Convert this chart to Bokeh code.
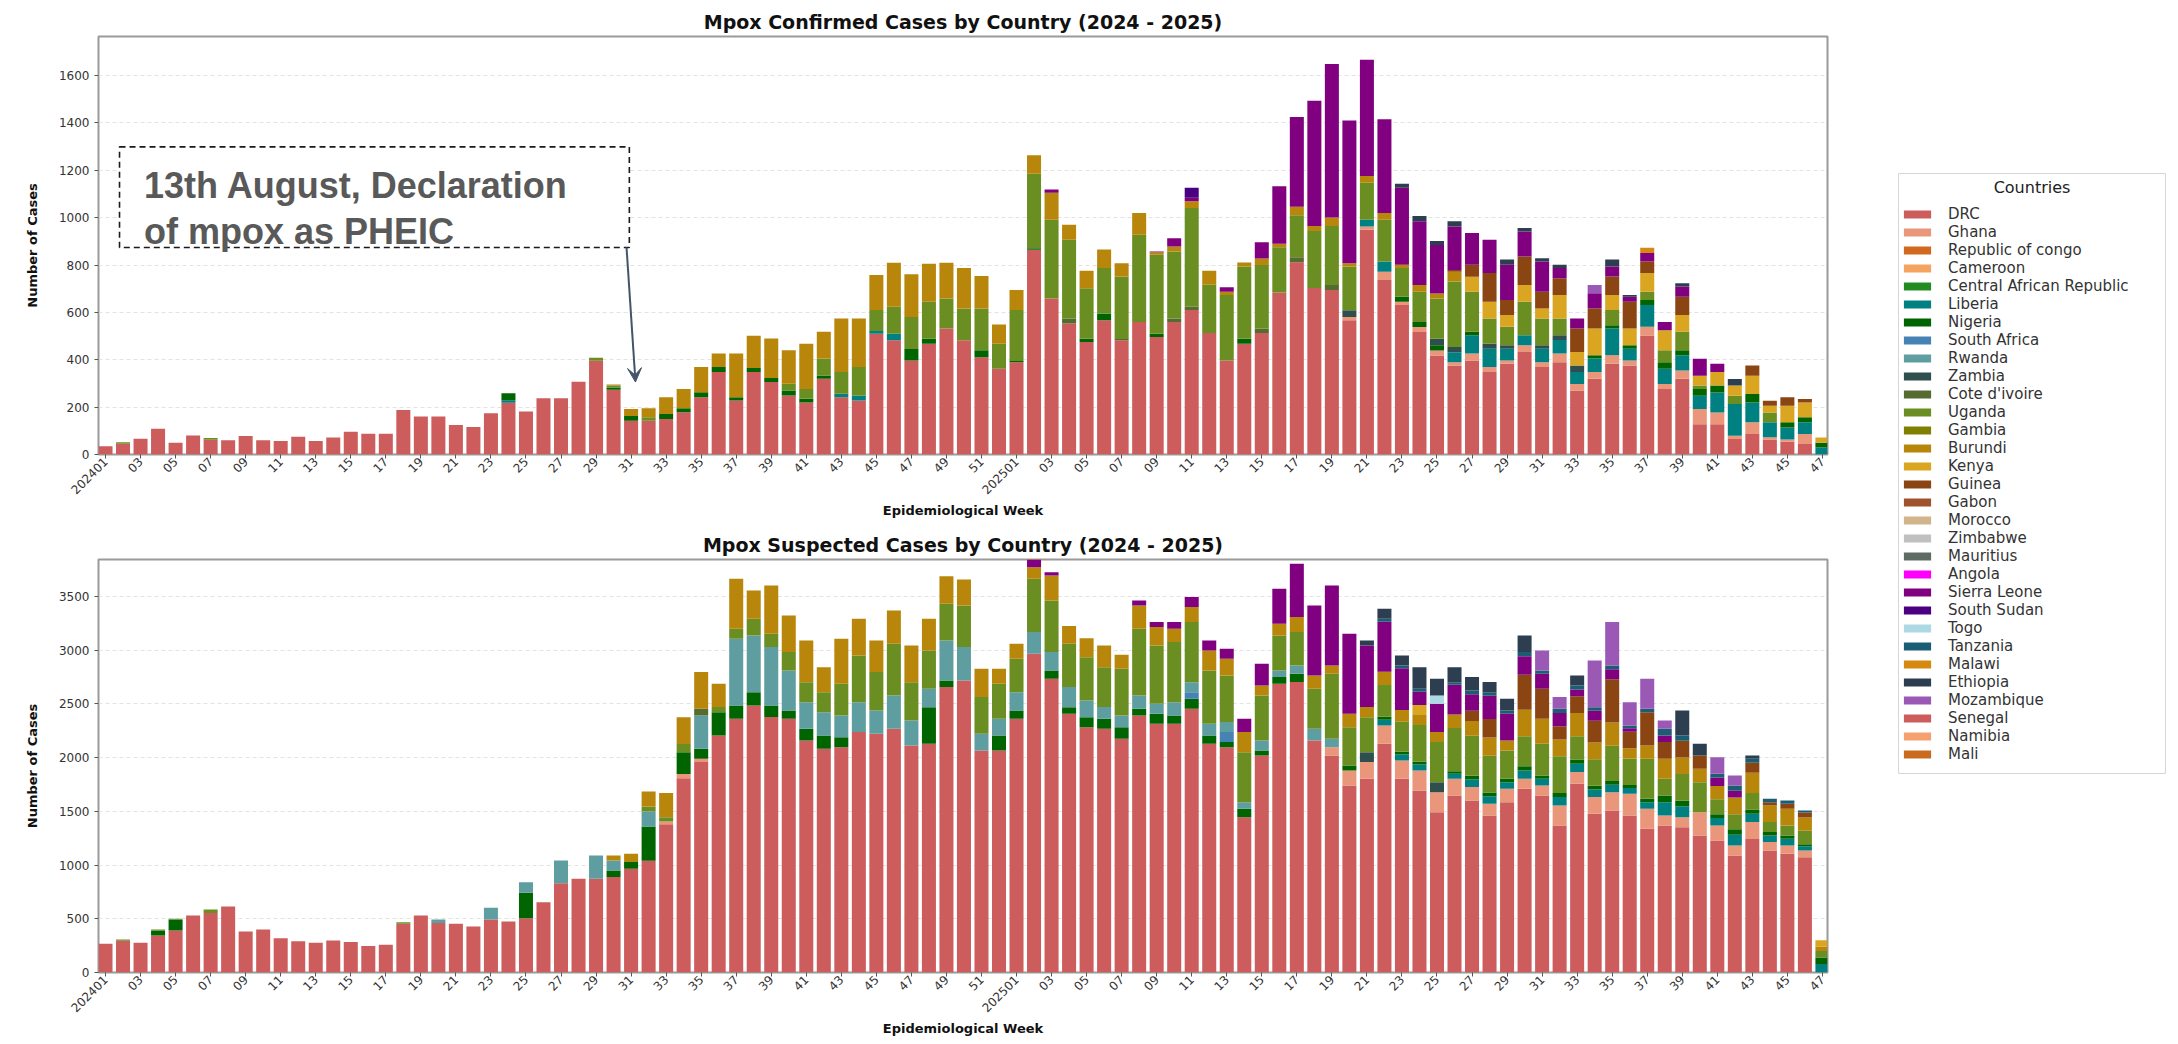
import math
from bokeh.plotting import figure
from bokeh.models import (ColumnDataSource, Range1d, FixedTicker, Legend, LegendItem,
                          BoxAnnotation, Label, Arrow, VeeHead)
from bokeh.layouts import row, column
from bokeh.embed import file_html
from bokeh.resources import INLINE

# ---------------- categories ----------------
weeks = [f"2024{w:02d}" for w in range(1, 53)] + [f"2025{w:02d}" for w in range(1, 48)]
N = len(weeks)
tick_labels = {i: (wk if wk.endswith("01") else wk[4:]) for i, wk in enumerate(weeks) if i % 2 == 0}

countries = ["DRC", "Ghana", "Republic of congo", "Cameroon", "Central African Republic",
             "Liberia", "Nigeria", "South Africa", "Rwanda", "Zambia", "Cote d'ivoire",
             "Uganda", "Gambia", "Burundi", "Kenya", "Guinea", "Gabon", "Morocco",
             "Zimbabwe", "Mauritius", "Angola", "Sierra Leone", "South Sudan", "Togo",
             "Tanzania", "Malawi", "Ethiopia", "Mozambique", "Senegal", "Namibia", "Mali"]
colors = ["#CD5C5C", "#E9967A", "#D2691E", "#F4A460", "#228B22",
          "#008080", "#006400", "#4682B4", "#5F9EA0", "#2F4F4F", "#556B2F",
          "#6B8E23", "#808000", "#B8860B", "#DAA520", "#8B4513", "#A0522D", "#D2B48C",
          "#C0C0C0", "#5E6B63", "#FF00FF", "#800080", "#4B0082", "#ADD8E6",
          "#1B5E73", "#D68910", "#2C3E50", "#9B59B6", "#CD5C5C", "#F4A070", "#CA6A1E"]

# ---------------- confirmed cases (2024 weeks 1-52, 2025 weeks 1-47) ----------------
c_drc_24 = [35, 45, 66, 109, 50, 80, 62, 60, 78, 60,
            57, 75, 57, 72, 96, 88, 88, 188, 160, 160,
            125, 116, 174, 219, 182, 238, 238, 307, 396, 273,
            143, 143, 150, 178, 242, 348, 228, 348, 306, 249,
            220, 320, 242, 228, 510, 482, 397, 468, 532, 482,
            411, 362]
c_drc_25 = [390, 865, 659, 553, 475, 567, 482, 560, 496, 560,
            610, 513, 397, 468, 513, 684, 812, 703, 695, 567,
            949, 737, 631, 517, 418, 376, 397, 348, 383, 433,
            369, 390, 270, 320, 383, 376, 503, 277, 320, 128,
            128, 65, 87, 63, 54, 44, 0]
c_gh_25 = [0, 0, 0, 0, 0, 0, 0, 0, 0, 0,
           0, 0, 0, 0, 0, 0, 0, 0, 0, 14,
           14, 35, 14, 21, 21, 14, 29, 21, 14, 28,
           21, 36, 28, 28, 36, 21, 36, 21, 35, 64,
           49, 14, 49, 10, 9, 43, 0]
c_lib_24 = [0, 0, 0, 0, 0, 0, 0, 0, 0, 0,
            0, 0, 0, 0, 0, 0, 0, 0, 0, 0,
            0, 0, 0, 10, 0, 0, 0, 0, 0, 0,
            0, 0, 0, 0, 0, 0, 0, 0, 0, 0,
            0, 0, 14, 21, 12, 28, 0, 0, 0, 0,
            0, 0]
c_lib_25 = [0, 0, 0, 0, 0, 0, 0, 0, 0, 0,
            0, 0, 0, 0, 0, 0, 0, 0, 0, 0,
            28, 43, 0, 0, 0, 42, 78, 78, 50, 43,
            57, 57, 50, 57, 113, 50, 92, 64, 64, 56,
            85, 134, 84, 63, 51, 49, 30]
c_nig_24 = [0, 0, 0, 0, 0, 0, 0, 0, 0, 0,
            0, 0, 0, 0, 0, 0, 0, 0, 0, 0,
            0, 0, 0, 30, 0, 0, 0, 0, 0, 10,
            20, 0, 21, 17, 21, 21, 14, 17, 17, 21,
            15, 14, 0, 0, 0, 0, 49, 21, 0, 0,
            29, 0]
c_nig_25 = [5, 6, 0, 0, 14, 28, 0, 0, 14, 0,
            0, 0, 0, 21, 0, 0, 0, 0, 0, 0,
            0, 0, 21, 22, 22, 0, 14, 0, 0, 0,
            0, 0, 0, 14, 14, 14, 21, 28, 21, 29,
            29, 0, 35, 0, 22, 21, 20]
c_zam_25 = [0, 0, 0, 0, 0, 0, 0, 0, 0, 0,
            0, 0, 0, 0, 0, 0, 0, 0, 0, 28,
            0, 0, 0, 0, 28, 22, 0, 21, 14, 0,
            14, 21, 28, 0, 0, 0, 0, 0, 0, 0,
            0, 0, 0, 0, 0, 0, 0]
c_cote_25 = [0, 0, 0, 21, 0, 0, 6, 0, 0, 14,
             14, 0, 0, 0, 19, 0, 21, 0, 21, 0,
             0, 0, 0, 0, 0, 0, 0, 0, 0, 0,
             0, 0, 0, 0, 0, 0, 0, 0, 0, 0,
             0, 0, 0, 0, 0, 0, 0]
c_ug_24 = [0, 7, 0, 0, 0, 0, 8, 0, 0, 0,
           0, 0, 0, 0, 0, 0, 0, 0, 0, 0,
           0, 0, 0, 0, 0, 0, 0, 0, 13, 8,
           0, 14, 0, 0, 0, 0, 0, 0, 0, 29,
           42, 71, 92, 120, 88, 114, 135, 156, 127, 135,
           177, 106]
c_ug_25 = [215, 314, 332, 333, 213, 192, 264, 368, 333, 283,
           417, 204, 276, 305, 268, 191, 177, 241, 249, 185,
           156, 176, 121, 127, 170, 276, 169, 106, 78, 141,
           113, 70, 0, 0, 64, 0, 35, 50, 78, 14,
           0, 35, 0, 41, 0, 0, 0]
c_bur_24 = [0, 0, 0, 0, 0, 0, 0, 0, 0, 0,
            0, 0, 0, 0, 0, 0, 0, 0, 0, 0,
            0, 0, 0, 0, 0, 0, 0, 0, 0, 5,
            29, 38, 71, 82, 106, 57, 184, 136, 167, 141,
            191, 113, 226, 205, 148, 186, 180, 160, 151, 170,
            137, 81]
c_bur_25 = [85, 79, 114, 63, 74, 79, 56, 92, 11, 21,
            28, 59, 14, 17, 28, 15, 36, 21, 36, 14,
            29, 29, 14, 29, 21, 42, 0, 0, 0, 0,
            0, 0, 0, 0, 0, 0, 0, 0, 0, 0,
            0, 0, 0, 0, 0, 0, 0]
c_ken_25 = [0, 0, 0, 0, 0, 0, 0, 0, 0, 0,
            0, 0, 0, 0, 0, 0, 0, 0, 0, 0,
            0, 0, 0, 0, 0, 0, 64, 71, 50, 71,
            43, 100, 57, 113, 64, 71, 79, 85, 71, 42,
            57, 43, 78, 29, 70, 63, 22]
c_gui_25 = [0, 0, 0, 0, 0, 0, 0, 0, 0, 0,
            0, 0, 0, 0, 0, 0, 0, 0, 0, 0,
            0, 0, 0, 0, 0, 7, 50, 121, 63, 120,
            70, 70, 99, 85, 78, 113, 49, 0, 77, 0,
            0, 0, 43, 21, 36, 14, 0]
c_sl_25 = [0, 0, 14, 0, 0, 0, 0, 0, 3, 35,
           15, 0, 19, 0, 68, 243, 379, 529, 648, 602,
           491, 396, 325, 269, 205, 184, 134, 141, 149, 106,
           128, 43, 42, 64, 42, 21, 36, 35, 43, 71,
           35, 0, 0, 0, 0, 0, 0]
c_ss_25 = [0, 0, 0, 0, 0, 0, 0, 0, 0, 0,
           42, 0, 0, 0, 0, 0, 0, 0, 0, 0,
           0, 0, 0, 0, 0, 0, 0, 0, 0, 0,
           0, 0, 0, 0, 0, 0, 0, 0, 0, 0,
           0, 0, 0, 0, 0, 0, 0]
c_eth_25 = [0, 0, 0, 0, 0, 0, 0, 0, 0, 0,
            0, 0, 0, 0, 0, 0, 0, 0, 0, 0,
            0, 0, 17, 22, 17, 22, 0, 0, 22, 14,
            14, 14, 0, 0, 29, 8, 0, 0, 14, 0,
            0, 28, 0, 0, 0, 0, 0]
c_moz_25 = [0, 0, 0, 0, 0, 0, 0, 0, 0, 0,
            0, 0, 0, 0, 0, 0, 0, 0, 0, 0,
            0, 0, 0, 0, 0, 0, 0, 0, 0, 0,
            0, 0, 0, 35, 0, 0, 0, 0, 0, 0,
            0, 0, 0, 0, 0, 0, 0]
c_mal_25 = [0, 0, 0, 0, 0, 0, 0, 0, 0, 0,
            0, 0, 0, 0, 0, 0, 0, 0, 0, 0,
            0, 0, 0, 0, 0, 0, 0, 0, 0, 0,
            0, 0, 0, 0, 0, 0, 22, 0, 0, 0,
            0, 0, 0, 0, 0, 0, 0]

# ---------------- suspected cases ----------------
s_drc_24 = [267, 295, 277, 345, 391, 531, 555, 614, 382, 400,
            320, 292, 277, 298, 283, 246, 258, 453, 531, 462,
            453, 428, 494, 475, 506, 654, 832, 872, 872, 888,
            965, 1040, 1380, 1808, 1959, 2206, 2362, 2486, 2378, 2362,
            2160, 2083, 2098, 2238, 2222, 2269, 2114, 2129, 2657, 2719,
            2067, 2067]
s_drc_25 = [2362, 2967, 2734, 2408, 2284, 2269, 2176, 2393, 2315, 2315,
            2455, 2129, 2098, 1446, 2020, 2688, 2704, 2160, 2020, 1741,
            1803, 2129, 1803, 1695, 1493, 1648, 1602, 1462, 1586, 1710,
            1648, 1369, 1757, 1477, 1508, 1462, 1338, 1369, 1353, 1276,
            1229, 1089, 1244, 1136, 1105, 1074, 0]
s_gh_24 = [0, 0, 0, 0, 0, 0, 0, 0, 0, 0,
           0, 0, 0, 0, 0, 0, 0, 0, 0, 0,
           0, 0, 0, 0, 0, 0, 0, 0, 0, 0,
           0, 0, 25, 41, 31, 0, 0, 0, 0, 0,
           0, 0, 0, 0, 0, 0, 0, 0, 0, 0,
           0, 0]
s_gh_25 = [0, 0, 0, 0, 0, 0, 0, 0, 0, 0,
           0, 0, 0, 0, 0, 0, 0, 0, 78, 140,
           156, 171, 171, 186, 186, 155, 124, 109, 124, 93,
           93, 186, 109, 156, 171, 202, 186, 93, 93, 217,
           140, 94, 156, 78, 78, 62, 0]
s_lib_25 = [0, 0, 0, 0, 0, 0, 0, 0, 0, 0,
            0, 0, 0, 0, 0, 0, 0, 0, 0, 0,
            0, 54, 55, 55, 0, 47, 70, 70, 62, 78,
            63, 78, 77, 70, 70, 54, 62, 124, 101, 0,
            70, 100, 78, 62, 62, 39, 80]
s_nig_24 = [0, 0, 0, 46, 103, 0, 0, 0, 0, 0,
            0, 0, 0, 0, 0, 0, 0, 0, 0, 0,
            0, 0, 0, 0, 236, 0, 0, 0, 0, 62,
            63, 320, 0, 202, 93, 218, 124, 124, 108, 78,
            109, 124, 93, 0, 0, 0, 0, 341, 62, 0,
            0, 140]
s_nig_25 = [78, 0, 78, 62, 93, 93, 108, 62, 93, 78,
            93, 78, 47, 78, 47, 62, 77, 0, 0, 46,
            0, 27, 27, 27, 0, 24, 35, 35, 31, 39,
            31, 39, 39, 35, 35, 27, 31, 62, 51, 0,
            35, 51, 39, 31, 31, 20, 60]
s_rw_24 = [0, 0, 0, 0, 0, 0, 0, 0, 0, 0,
           0, 0, 0, 0, 0, 0, 0, 0, 0, 32,
           0, 0, 109, 0, 99, 0, 211, 0, 218, 93,
           0, 140, 0, 0, 310, 0, 621, 528, 544, 372,
           248, 217, 202, 279, 218, 310, 232, 171, 372, 311,
           155, 155]
s_rw_25 = [170, 202, 171, 187, 156, 109, 109, 124, 94, 124,
           93, 108, 93, 62, 93, 62, 78, 109, 78, 0,
           0, 0, 0, 0, 0, 0, 0, 0, 0, 0,
           0, 0, 0, 0, 0, 0, 0, 0, 0, 0,
           0, 0, 0, 0, 0, 0, 0]
s_zam_25 = [0, 0, 0, 0, 0, 0, 0, 0, 0, 0,
            0, 0, 0, 0, 0, 0, 0, 0, 0, 0,
            92, 0, 0, 0, 93, 0, 0, 0, 0, 0,
            0, 0, 0, 0, 0, 0, 0, 0, 0, 0,
            0, 0, 0, 0, 0, 0, 0]
s_cote_24 = [0, 0, 0, 0, 0, 0, 0, 0, 0, 0,
             0, 0, 0, 0, 0, 0, 0, 0, 0, 0,
             0, 0, 0, 0, 0, 0, 0, 0, 0, 0,
             0, 0, 0, 0, 62, 0, 0, 0, 0, 0,
             0, 0, 0, 0, 0, 0, 0, 0, 0, 0,
             0, 0]
s_ug_24 = [0, 13, 0, 9, 6, 0, 32, 0, 0, 0,
           0, 0, 0, 0, 0, 0, 0, 15, 0, 0,
           0, 0, 0, 0, 0, 0, 0, 0, 0, 0,
           0, 46, 40, 77, 0, 47, 93, 155, 124, 171,
           186, 186, 295, 435, 357, 482, 357, 357, 342, 387,
           342, 326]
s_ug_25 = [311, 496, 481, 404, 403, 372, 435, 621, 543, 559,
           559, 497, 434, 465, 419, 326, 310, 372, 605, 357,
           326, 295, 279, 341, 373, 403, 372, 341, 264, 279,
           294, 341, 218, 248, 326, 248, 372, 156, 249, 279,
           139, 140, 155, 93, 93, 124, 60]
s_bur_24 = [0, 0, 0, 0, 0, 0, 0, 0, 0, 0,
            0, 0, 0, 0, 0, 0, 0, 0, 0, 0,
            0, 0, 0, 0, 0, 0, 0, 0, 0, 47,
            77, 139, 225, 249, 342, 217, 465, 264, 449, 341,
            388, 233, 419, 341, 294, 310, 342, 295, 257, 242,
            264, 140]
s_bur_25 = [140, 109, 232, 164, 177, 202, 130, 217, 171, 124,
            140, 186, 156, 187, 93, 109, 140, 124, 78, 124,
            94, 125, 109, 93, 93, 124, 139, 171, 93, 248,
            233, 156, 217, 156, 217, 94, 125, 185, 154, 125,
            124, 155, 187, 155, 155, 124, 40]
s_ken_25 = [0, 0, 0, 0, 0, 0, 0, 0, 0, 0,
            0, 0, 0, 0, 0, 0, 0, 0, 0, 0,
            0, 0, 0, 93, 0, 0, 0, 0, 0, 0,
            0, 0, 0, 0, 0, 0, 0, 0, 0, 0,
            0, 0, 0, 0, 0, 0, 60]
s_gui_25 = [0, 0, 0, 0, 0, 0, 0, 0, 0, 0,
            0, 0, 0, 0, 0, 0, 0, 0, 0, 0,
            0, 0, 0, 0, 0, 0, 94, 171, 0, 326,
            279, 124, 155, 201, 404, 155, 310, 156, 156, 123,
            0, 0, 93, 31, 47, 47, 0]
s_sa_25 = [0, 0, 0, 0, 0, 0, 0, 0, 0, 0,
           62, 0, 93, 0, 0, 0, 0, 0, 0, 0,
           0, 0, 0, 0, 0, 0, 0, 0, 0, 0,
           0, 0, 0, 0, 0, 0, 0, 0, 0, 0,
           0, 0, 0, 0, 0, 0, 0]
s_sl_25 = [0, 78, 31, 0, 0, 0, 0, 47, 46, 62,
           93, 93, 93, 124, 202, 325, 496, 652, 744, 746,
           574, 465, 388, 124, 264, 279, 155, 217, 249, 171,
           140, 124, 62, 93, 93, 31, 0, 62, 0, 0,
           78, 62, 0, 0, 0, 0, 0]
s_togo_25 = [0, 0, 0, 0, 0, 0, 0, 0, 0, 0,
             0, 0, 0, 0, 0, 0, 0, 0, 0, 0,
             0, 0, 0, 0, 77, 0, 0, 0, 0, 0,
             0, 0, 0, 0, 0, 0, 0, 0, 0, 0,
             0, 0, 0, 0, 0, 0, 0]
s_tz_25 = [0, 0, 0, 0, 0, 0, 0, 0, 0, 0,
           0, 0, 0, 0, 0, 0, 0, 0, 0, 0,
           0, 27, 27, 27, 0, 23, 35, 34, 31, 39,
           31, 38, 38, 34, 35, 27, 31, 62, 50, 0,
           35, 50, 38, 31, 31, 19, 0]
s_eth_25 = [0, 0, 0, 0, 0, 0, 0, 0, 0, 0,
            0, 0, 0, 0, 0, 0, 0, 0, 0, 0,
            46, 93, 93, 202, 155, 140, 124, 94, 108, 155,
            0, 0, 94, 0, 0, 0, 0, 0, 233, 109,
            0, 0, 30, 0, 0, 0, 0]
s_moz_25 = [0, 0, 0, 0, 0, 0, 0, 0, 0, 0,
            0, 0, 0, 0, 0, 0, 0, 0, 0, 0,
            0, 0, 0, 0, 0, 0, 0, 0, 0, 0,
            186, 109, 0, 435, 403, 217, 279, 78, 0, 0,
            155, 93, 0, 0, 0, 0, 0]

Z24 = [0] * 52
Z25 = [0] * 47

confirmed = {
    "DRC": c_drc_24 + c_drc_25,
    "Ghana": Z24 + c_gh_25,
    "Liberia": c_lib_24 + c_lib_25,
    "Nigeria": c_nig_24 + c_nig_25,
    "Zambia": Z24 + c_zam_25,
    "Cote d'ivoire": Z24 + c_cote_25,
    "Uganda": c_ug_24 + c_ug_25,
    "Burundi": c_bur_24 + c_bur_25,
    "Kenya": Z24 + c_ken_25,
    "Guinea": Z24 + c_gui_25,
    "Sierra Leone": Z24 + c_sl_25,
    "South Sudan": Z24 + c_ss_25,
    "Malawi": Z24 + c_mal_25,
    "Ethiopia": Z24 + c_eth_25,
    "Mozambique": Z24 + c_moz_25,
}
suspected = {
    "DRC": s_drc_24 + s_drc_25,
    "Ghana": s_gh_24 + s_gh_25,
    "Liberia": Z24 + s_lib_25,
    "Nigeria": s_nig_24 + s_nig_25,
    "South Africa": Z24 + s_sa_25,
    "Rwanda": s_rw_24 + s_rw_25,
    "Zambia": Z24 + s_zam_25,
    "Cote d'ivoire": s_cote_24 + Z25,
    "Uganda": s_ug_24 + s_ug_25,
    "Burundi": s_bur_24 + s_bur_25,
    "Kenya": Z24 + s_ken_25,
    "Guinea": Z24 + s_gui_25,
    "Sierra Leone": Z24 + s_sl_25,
    "Togo": Z24 + s_togo_25,
    "Tanzania": Z24 + s_tz_25,
    "Ethiopia": Z24 + s_eth_25,
    "Mozambique": Z24 + s_moz_25,
}

bad = [(nm, k, len(v)) for nm, d in (("conf", confirmed), ("susp", suspected))
       for k, v in d.items() if len(v) != N]
if bad:
    raise SystemExit(f"length problems: {bad}")

FONT = "DejaVu Sans"
PW = 1837   # chart width


def make_fig(title, data, ymax, yticks, height, top_border, bottom_border):
    cols = {"x": list(range(N))}
    for c in countries:
        cols[c] = data.get(c, [0] * N)
    src = ColumnDataSource(cols)
    p = figure(width=PW, height=height, x_range=Range1d(-0.4, 98.29),
               y_range=Range1d(0, ymax), toolbar_location=None, output_backend="svg",
               title=title, min_border_left=98, min_border_right=10,
               min_border_top=top_border, min_border_bottom=bottom_border)
    p.vbar_stack(countries, x="x", width=0.8, source=src,
                 fill_color=colors, line_color=None)
    p.title.text_font = FONT
    p.title.text_font_style = "bold"
    p.title.text_font_size = "19px"
    p.title.text_color = "#111111"
    p.title.align = "center"
    p.title.standoff = 8

    p.xaxis.ticker = FixedTicker(ticks=list(range(0, N, 2)))
    p.xaxis.major_label_overrides = tick_labels
    p.xaxis.major_label_orientation = math.pi / 4
    p.xaxis.axis_label = "Epidemiological Week"
    p.xaxis.axis_label_standoff = 2
    p.xaxis.major_label_standoff = 1
    p.yaxis.ticker = FixedTicker(ticks=yticks)
    p.yaxis.axis_label = "Number of Cases"
    p.yaxis.axis_label_standoff = 16
    p.yaxis.major_label_standoff = 5
    for ax in (p.xaxis, p.yaxis):
        ax.axis_label_text_font = FONT
        ax.axis_label_text_font_style = "bold"
        ax.axis_label_text_font_size = "13px"
        ax.axis_label_text_color = "#111111"
        ax.major_label_text_font = FONT
        ax.major_label_text_font_size = "12px"
        ax.major_label_text_color = "#333333"
        ax.axis_line_color = None
        ax.major_tick_line_color = "#555555"
        ax.major_tick_out = 4
        ax.major_tick_in = 0
        ax.minor_tick_line_color = None
    p.xgrid.visible = False
    p.ygrid.grid_line_color = "#e3e3e3"
    p.ygrid.grid_line_dash = "4 3"
    p.outline_line_color = "#9a9a9a"
    p.outline_line_width = 2
    p.background_fill_color = "white"
    return p


p1 = make_fig("Mpox Confirmed Cases by Country (2024 - 2025)", confirmed, 1765,
              list(range(0, 1601, 200)), 526, 36, 72)
p2 = make_fig("Mpox Suspected Cases by Country (2024 - 2025)", suspected, 3845,
              list(range(0, 3501, 500)), 518, 33, 72)

# annotation on the confirmed chart
box = BoxAnnotation(left=0.8, right=29.9, bottom=874, top=1299,
                    fill_color="white", fill_alpha=1.0, line_color="#1a1a1a",
                    line_alpha=1.0, line_dash="6 4", line_width=1.6)
p1.add_layout(box)
for txt, yv in (("13th August, Declaration", 1135), ("of mpox as PHEIC", 942)):
    p1.add_layout(Label(x=2.2, y=yv, text=txt, text_font="Liberation Sans",
                        text_font_style="bold", text_font_size="36px",
                        text_color="#595959", text_baseline="alphabetic"))
p1.add_layout(Arrow(x_start=29.74, y_start=874, x_end=30.25, y_end=306,
                    line_color="#44546A", line_width=2,
                    end=VeeHead(size=14, fill_color="#44546A", line_color="#44546A")))

# legend panel (frame == whole figure, ranges 0..1)
LW, LH = 338, 1044
lf = figure(width=LW, height=LH, x_axis_type=None, y_axis_type=None,
            toolbar_location=None, output_backend="svg", min_border=0,
            x_range=Range1d(0, 1), y_range=Range1d(0, 1))
lf.outline_line_color = None
lf.grid.visible = False
lf.add_layout(BoxAnnotation(left=61 / LW, right=328 / LW, top=1 - 173 / LH, bottom=1 - 773 / LH,
                            fill_color="white", fill_alpha=1.0, line_color="#d6d6d6",
                            line_alpha=1.0, line_width=1))
lf.add_layout(Label(x=194.5 / LW, y=1 - 187 / LH, text="Countries", text_font=FONT,
                    text_font_size="16px", text_color="#222222",
                    text_align="center", text_baseline="middle"))
items = []
for c, col in zip(countries, colors):
    r = lf.vbar(x=[-10], top=[0], bottom=[0], width=0.5, fill_color=col, line_color=None)
    items.append(LegendItem(label=c, renderers=[r]))
leg = Legend(items=items, location=(63, 281),
             label_text_font=FONT, label_text_font_size="15px",
             label_text_color="#333333", label_height=18, label_standoff=14,
             glyph_width=34, glyph_height=10, spacing=0, padding=6, margin=0,
             border_line_color=None, background_fill_alpha=0)
lf.add_layout(leg)

layout = row(column(p1, p2), lf)

with open("out.html", "w") as f:
    f.write(file_html(layout, INLINE))
